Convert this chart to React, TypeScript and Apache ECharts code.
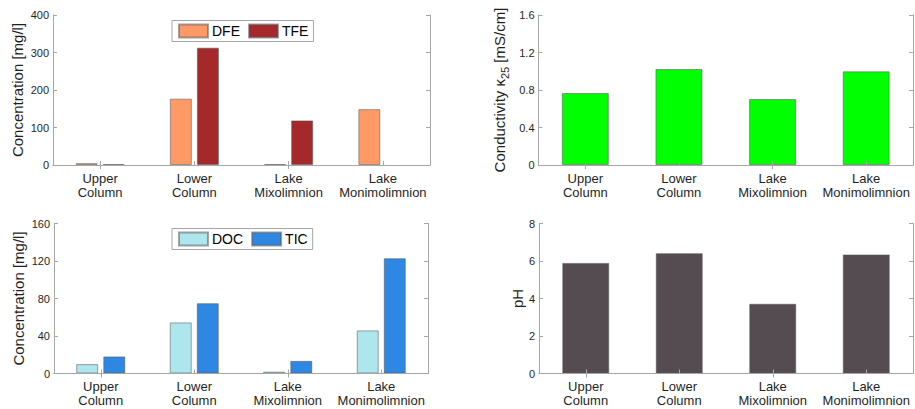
import React, { useEffect, useRef } from "react";
import * as echarts from "echarts";

const categories = ["Upper\nColumn", "Lower\nColumn", "Lake\nMixolimnion", "Lake\nMonimolimnion"];
const dfe = [5, 177, 2, 149];
const tfe = [2, 313, 119, null];
const conductivity = [0.768, 1.024, 0.704, 0.999];
const doc = [10, 54.5, 2, 46];
const tic = [18.2, 75, 13.5, 123];
const ph = [5.9, 6.42, 3.72, 6.35];

const FONT = "'Liberation Sans', Arial, Helvetica, sans-serif";
const AXIS_COLOR = "#a6a6a6";
const TEXT_COLOR = "#1f1f1f";

const grids = [
  { left: 53, top: 15, width: 377, height: 150 },
  { left: 538.5, top: 15, width: 374.5, height: 150 },
  { left: 54, top: 223.5, width: 374, height: 150 },
  { left: 539, top: 223.5, width: 374, height: 150 },
];

const yRanges = [
  { min: 0, max: 400, interval: 100 },
  { min: 0, max: 1.6, interval: 0.4 },
  { min: 0, max: 160, interval: 40 },
  { min: 0, max: 8, interval: 2 },
];

const yNames = [
  "Concentration [mg/l]",
  "{a|Conductivity κ}{s|25}{a| [mS/cm]}",
  "Concentration [mg/l]",
  "pH",
];
const yNameGaps = [28, 28, 28, 13];

export default function App() {
  const ref = useRef<HTMLDivElement>(null);
  useEffect(() => {
    if (!ref.current) return;
    const chart = echarts.init(ref.current, null, { renderer: "svg" });
    const xAxis: any[] = [];
    const yAxis: any[] = [];
    grids.forEach((g, i) => {
      xAxis.push({
        type: "category",
        gridIndex: i,
        data: categories,
        position: "bottom",
        axisLine: { show: true, lineStyle: { color: AXIS_COLOR, width: 1 } },
        axisTick: { show: true, inside: true, alignWithLabel: true, length: 4, lineStyle: { color: AXIS_COLOR } },
        axisLabel: {
          interval: 0,
          margin: 6,
          fontFamily: FONT,
          fontSize: 13,
          lineHeight: 14,
          color: TEXT_COLOR,
        },
        splitLine: { show: false },
        z: 10,
      });
      xAxis.push({
        type: "category",
        gridIndex: i,
        data: categories,
        position: "top",
        axisLine: { show: true, lineStyle: { color: AXIS_COLOR, width: 1 } },
        axisTick: { show: true, inside: true, alignWithLabel: true, length: 4, lineStyle: { color: AXIS_COLOR } },
        axisLabel: { show: false },
        splitLine: { show: false },
        z: 10,
      });
      const r = yRanges[i];
      yAxis.push({
        type: "value",
        gridIndex: i,
        position: "left",
        min: r.min,
        max: r.max,
        interval: r.interval,
        name: yNames[i],
        nameLocation: "middle",
        nameGap: yNameGaps[i],
        nameTextStyle: {
          fontFamily: FONT,
          fontSize: 15,
          color: TEXT_COLOR,
          rich: {
            a: { fontFamily: FONT, fontSize: 15, color: TEXT_COLOR, lineHeight: 17, verticalAlign: "middle" },
            s: { fontFamily: FONT, fontSize: 11, color: TEXT_COLOR, lineHeight: 22, verticalAlign: "bottom" },
          },
        },
        axisLine: { show: true, lineStyle: { color: AXIS_COLOR, width: 1 } },
        axisTick: { show: true, inside: true, length: 4, lineStyle: { color: AXIS_COLOR } },
        axisLabel: { margin: 4, fontFamily: FONT, fontSize: 11, color: TEXT_COLOR },
        splitLine: { show: false },
        z: 10,
      });
      yAxis.push({
        type: "value",
        gridIndex: i,
        position: "right",
        min: r.min,
        max: r.max,
        interval: r.interval,
        axisLine: { show: true, lineStyle: { color: AXIS_COLOR, width: 1 } },
        axisTick: { show: true, inside: true, length: 4, lineStyle: { color: AXIS_COLOR } },
        axisLabel: { show: false },
        splitLine: { show: false },
        z: 10,
      });
    });

    const border = { borderColor: "rgba(90,90,90,0.55)", borderWidth: 1 };
    const series: any[] = [
      { name: "DFE", type: "bar", xAxisIndex: 0, yAxisIndex: 0, data: dfe, barWidth: 22, barGap: "23%", itemStyle: { color: "#ff9a66", ...border } },
      { name: "TFE", type: "bar", xAxisIndex: 0, yAxisIndex: 0, data: tfe, barWidth: 22, barGap: "23%", itemStyle: { color: "#a5282a", ...border } },
      { name: "cond", type: "bar", xAxisIndex: 2, yAxisIndex: 2, data: conductivity, barWidth: 47, itemStyle: { color: "#00ff00", ...border } },
      { name: "DOC", type: "bar", xAxisIndex: 4, yAxisIndex: 4, data: doc, barWidth: 22, barGap: "23%", itemStyle: { color: "#ade6ec", ...border } },
      { name: "TIC", type: "bar", xAxisIndex: 4, yAxisIndex: 4, data: tic, barWidth: 22, barGap: "23%", itemStyle: { color: "#2f87e4", ...border } },
      { name: "pH", type: "bar", xAxisIndex: 6, yAxisIndex: 6, data: ph, barWidth: 47, itemStyle: { color: "#554c52", ...border } },
    ];

    const legendCommon = {
      orient: "horizontal",
      itemWidth: 29,
      itemHeight: 13,
      itemGap: 8,
      padding: [3, 5, 3, 6],
      borderColor: "#a6a6a6",
      borderWidth: 1,
      backgroundColor: "#ffffff",
      textStyle: { fontFamily: FONT, fontSize: 14, color: "#000", padding: [0, 0, 0, -1] },
      selectedMode: false,
      icon: "rect",
    };

    chart.setOption({
      animation: false,
      backgroundColor: "#ffffff",
      grid: grids.map((g) => ({ ...g, containLabel: false })),
      xAxis,
      yAxis,
      legend: [
        { ...legendCommon, data: ["DFE", "TFE"], left: 172, top: 20.5 },
        { ...legendCommon, data: ["DOC", "TIC"], left: 172, top: 228.5 },
      ],
      series,
    });
    return () => chart.dispose();
  }, []);
  return <div ref={ref} style={{ position: "fixed", left: 0, top: 0, width: 915, height: 409 }} />;
}
